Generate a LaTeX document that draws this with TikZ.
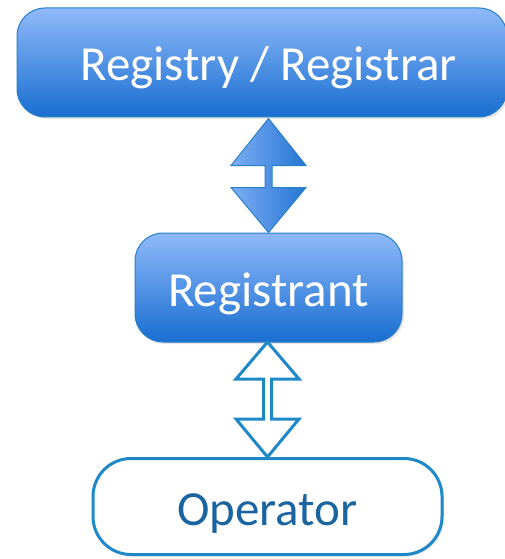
\documentclass[tikz,border=0pt]{standalone}
\usepackage{fontspec}
\setmainfont{Carlito}
\usetikzlibrary{shadows}

\definecolor{boxtop}{HTML}{8FB9FA}
\definecolor{boxbot}{HTML}{186ED0}
\definecolor{boxline}{HTML}{2880C8}
\definecolor{oprline}{HTML}{1E88C8}
\definecolor{oprtext}{HTML}{1A64A0}

\begin{document}
\begin{tikzpicture}[x=1pt, y=1pt,
    bluebox/.style={draw=boxline, line width=1pt, rounded corners=28pt,
        top color=boxtop, bottom color=boxbot, text=white,
        font=\fontsize{49}{56}\selectfont, text height=37pt, text depth=0pt,
        drop shadow={opacity=0.2, shadow xshift=2pt, shadow yshift=-2pt}},
    whitebox/.style={draw=oprline, line width=3pt, fill=white, rounded corners=38pt,
        text=oprtext, font=\fontsize{49}{56}\selectfont, text height=37pt, text depth=0pt,
        drop shadow={opacity=0.2, shadow xshift=2pt, shadow yshift=-2pt}},
    fullarrow/.style={draw=boxline, line width=1pt, left color=boxtop!85!boxbot,
        right color=boxbot!90!boxtop, line join=miter},
    hollowarrow/.style={draw=oprline, line width=3pt, fill=white, line join=miter}]
    \useasboundingbox (0,0) rectangle (505,-559);

    % the three boxes
    \node[bluebox, minimum width=490pt, minimum height=109pt]
        (reg) at (262,-62.5) {\hspace*{13pt}Registry / Registrar};
    \node[bluebox, minimum width=267pt, minimum height=109pt]
        (rant) at (268.5,-287.5) {Registrant};
    \node[whitebox, minimum width=349pt, minimum height=96pt]
        (opr) at (267.5,-506.5) {Operator};

    % double arrows between them
    \draw[fullarrow] (rant.north) -- ++(-37.5,45) -- ++(34,0) -- ++(0,22) -- ++(-34,0)
        -- ++(37.5,47) -- ++(37.5,-47) -- ++(-34,0) -- ++(0,-22) -- ++(34,0) -- cycle;
    \draw[hollowarrow] (opr.north) -- ++(-31.5,38) -- ++(27.5,0) -- ++(0,40) -- ++(-27.5,0)
        -- ++(31.5,37) -- ++(31.5,-37) -- ++(-27.5,0) -- ++(0,-40) -- ++(27.5,0) -- cycle;
\end{tikzpicture}
\end{document}
